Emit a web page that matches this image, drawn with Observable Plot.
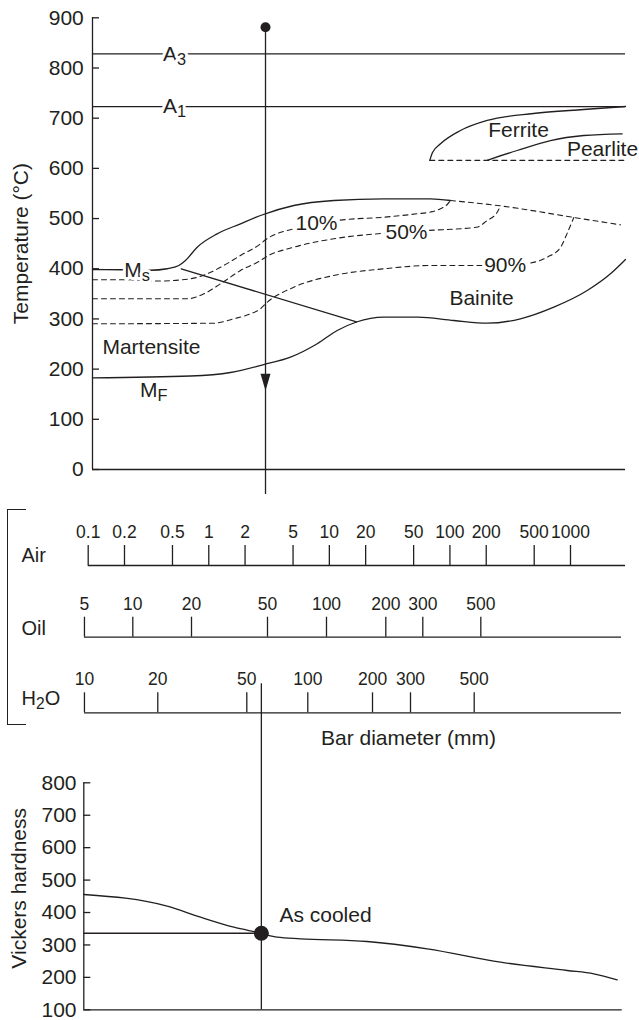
<!DOCTYPE html>
<html><head><meta charset="utf-8">
<script src="https://cdn.jsdelivr.net/npm/d3@7"></script>
<script src="https://cdn.jsdelivr.net/npm/@observablehq/plot@0.6"></script>
<style>
html,body{margin:0;padding:0;background:#fff;}
#fig{position:relative;width:639px;height:1020px;overflow:hidden;background:#fff;}
#fig svg{position:absolute;left:0;background:transparent;overflow:visible;}
#bracket{position:absolute;left:7px;top:509px;width:19px;height:216px;border:1.3px solid #231f20;border-right:none;box-sizing:border-box;}
</style></head>
<body><div id="fig"><div id="bracket"></div></div>
<script>
// ================= DATA =================
// Shared horizontal variable: air-cooled equivalent bar diameter (mm), log scale
const airDiam = [0.1, 0.2, 0.5, 1, 2, 5, 10, 20, 50, 100, 200, 500, 1000];
const oilDiam = [5, 10, 20, 50, 100, 200, 300, 500];
const oilAirEquiv = [0.0931, 0.2344, 0.719, 3.069, 9.47, 29.39, 59.57, 180.4];
const waterDiam = [10, 20, 50, 100, 200, 300, 500];
const waterAirEquiv = [0.0931, 0.3777, 2.067, 6.625, 22.8, 47.1, 159.0];

const tempTicks = [0, 100, 200, 300, 400, 500, 600, 700, 800, 900];
const hardTicks = [100, 200, 300, 400, 500, 600, 700, 800];

const A3 = 828, A1 = 723;

// CCT curves: [air-equivalent diameter, temperature °C]
const ferriteStart = [[68.1,616],[71.7,631.6],[83.5,648.9],[122.4,675.4],[203.8,695.4],[493,709.3],[1282,717.3],[2858,723.3]];
const pearliteStart = [[203.8,616],[361.4,635.6],[682.6,655.5],[1289,665.5],[2684,668.9]];
const ferritePearliteEnd = [[68.1,616],[2858,616]];
const msBainiteStart = [[0.1085,398.5],[0.1914,398],[0.3287,397],[0.4519,400],[0.5642,406.5],[0.6412,416.4],[0.8017,442.9],[1.1745,469.6],[1.833,489.5],[2.685,506.1],[5.073,526],[10.89,536],[28.29,539.4],[69.0,539.4],[101.1,536]];
const bainiteStartExt = [[101.1,536],[262.7,525.3],[1065,502.2],[2598,487.5]];
const pct10 = [[0.1085,378],[0.2243,378],[0.3735,375.5],[0.7055,380],[0.9703,389.9],[1.332,406.5],[1.833,426.4],[2.685,449.7],[2.955,457.7],[5.073,479.6],[7.826,488.5],[11.62,496.1],[28.29,502.7],[53.54,509.5],[69.0,513],[83.52,519.5],[94.94,528],[101.1,536]];
const pct50 = [[0.1085,340.1],[0.6624,340.1],[0.9094,350.1],[1.251,370],[1.833,396.5],[2.685,416.4],[2.955,423],[5.073,442.9],[10.89,459.7],[28.7,470.8],[43.64,473.5],[64.8,476.2],[166.4,482.8],[203.8,496.1],[246.7,512.7],[262.7,525.3]];
const pct90 = [[0.1085,290.3],[1.1008,291.5],[1.6128,300.3],[2.2183,310.2],[2.685,320.2],[2.955,330.2],[5.073,363.2],[10.89,386.6],[28.29,399.9],[69.0,406.5],[179.3,406.5],[287.3,407.5],[437.5,410.5],[641,423],[827.4,442.9],[944.5,472.2],[1065,502.2]];
const msDiagonal = [[0.5905,399.9],[16.8,293.9]];
const mfBainiteFinish = [[0.1085,182.7],[0.7055,186.3],[1.514,193.3],[2.86,209.2],[4.762,223.8],[7.93,250.5],[11.62,277],[16.8,293.9],[28.29,303.5],[53.86,303.5],[107.7,296.9],[203.8,291.5],[384.8,300.3],[727,323.4],[1376,356.6],[2146,389.9],[2858,418.4]];

const coolX = 2.955, coolStartT = 881, arrowT = 174;

const cctLineLabels = [
  {label: "A_3", x: 0.5195, t: 828},
  {label: "A_1", x: 0.5195, t: 723},
  {label: "M_s", x: 0.254, t: 397},
  {label: "10%", x: 7.826, t: 490},
  {label: "50%", x: 43.64, t: 473},
  {label: "90%", x: 287.3, t: 407.5}
];
const cctRegionLabels = [
  {label: "Ferrite", x: 370.4, t: 676.4},
  {label: "Pearlite", x: 1843, t: 638.6},
  {label: "Bainite", x: 182.8, t: 340.7},
  {label: "Martensite", x: 0.3343, t: 244.1},
  {label: "M_F", x: 0.3499, t: 157.4}
];

// Hardness: [air-equivalent diameter, HV]
const hardnessCurve = [[0.0919,455.5],[0.4519,419.5],[0.8538,385.5],[1.6128,354.7],[2.722,336.2],[3.694,323.9],[5.765,319],[20.6,310.6],[64.8,288.1],[262.7,246.8],[939,221.2],[1561,211],[2440,192.5]];
const asCooledX = 2.73, asCooledHV = 336;
const asCooledLabel = [{label: "As cooled", x: 9.29, hv: 390.8}];

// ================= DRAWING =================
const INK = "#231f20";
const FONT = "'Liberation Sans', Arial, Helvetica, sans-serif";
const X = {type: "log", domain: [0.1, 1000], range: [87.7, 570]};
const xs = d3.scaleLog().domain(X.domain).range(X.range);
const baseStyle = {fontFamily: FONT, fontSize: "21px", color: INK, background: "transparent", overflow: "visible"};
const solid = {stroke: INK, strokeWidth: 1.3, curve: "monotone-x"};
const dashed = {stroke: INK, strokeWidth: 1.1, strokeDasharray: "5,4", curve: "monotone-x"};
const downTriangle = {draw(ctx) { ctx.moveTo(-5, -8.5); ctx.lineTo(5, -8.5); ctx.lineTo(0, 8.5); ctx.closePath(); }};
const fig = document.getElementById("fig");

function subscripts(svg) {
  svg.querySelectorAll("text").forEach(t => {
    if (t.childElementCount) return;
    const s = t.textContent;
    if (!s.includes("_")) return;
    const parts = s.split(/_(.)/);
    t.textContent = "";
    let shifted = false;
    parts.forEach((p, i) => {
      if (!p) return;
      const ts = document.createElementNS("http://www.w3.org/2000/svg", "tspan");
      ts.textContent = p;
      if (i % 2) { ts.setAttribute("font-size", "78%"); ts.setAttribute("dy", "0.25em"); shifted = true; }
      else if (shifted) { ts.setAttribute("dy", "-0.195em"); shifted = false; }
      t.appendChild(ts);
    });
  });
}
function place(svg, top) {
  svg.style.top = top + "px";
  subscripts(svg);
  fig.appendChild(svg);
}

// ---- CCT diagram ----
const ML1 = 92, MR1 = 14;
place(Plot.plot({
  width: 639, height: 500, marginTop: 17.3, marginBottom: 31, marginLeft: ML1, marginRight: MR1,
  x: {...X, axis: null},
  y: {domain: [0, 900]},
  style: baseStyle,
  marks: [
    Plot.ruleX([xs.invert(ML1)], {y1: 0, y2: 900, stroke: INK, strokeWidth: 1.3}),
    Plot.ruleY([0], {stroke: INK, strokeWidth: 1.3}),
    Plot.axisY({ticks: tempTicks, tickSize: -7, tickPadding: 15.7, label: null, stroke: INK, strokeWidth: 1.3}),
    Plot.ruleY([A3, A1], {stroke: INK, strokeWidth: 1.3}),
    Plot.line(ferriteStart, solid),
    Plot.line(pearliteStart, solid),
    Plot.line(ferritePearliteEnd, dashed),
    Plot.line(bainiteStartExt, dashed),
    Plot.line(pct10, dashed),
    Plot.line(pct50, dashed),
    Plot.line(pct90, dashed),
    Plot.line(msBainiteStart, solid),
    Plot.line(msDiagonal, {stroke: INK, strokeWidth: 1.3}),
    Plot.line(mfBainiteFinish, solid),
    Plot.ruleX([coolX], {y1: coolStartT, y2: 0, insetBottom: -25, stroke: INK, strokeWidth: 1.3}),
    Plot.dot([[coolX, coolStartT]], {r: 5, fill: INK, stroke: "none"}),
    Plot.dot([[coolX, arrowT]], {symbol: downTriangle, fill: INK, stroke: "none"}),
    Plot.text(cctLineLabels, {x: "x", y: "t", text: "label", fill: INK, stroke: "white", strokeWidth: 6, paintOrder: "stroke", fontSize: 21}),
    Plot.text(cctRegionLabels, {x: "x", y: "t", text: "label", fill: INK, fontSize: 21}),
    Plot.text(["Temperature (°C)"], {frameAnchor: "left", textAnchor: "middle", lineAnchor: "middle", rotate: -90, dx: -71, fill: INK, fontSize: 21})
  ]
}), 0);

// ---- nomogram scales ----
function scaleRow({name, values, pos, top, height, base, ml, mr, labelDy, extra = []}) {
  const ticks = values.map((v, i) => ({v, p: pos[i]}));
  place(Plot.plot({
    width: 639, height, marginTop: base, marginBottom: height - base, marginLeft: ml, marginRight: mr,
    x: {...X, axis: null},
    y: {domain: [0, 1], axis: null},
    style: baseStyle,
    marks: [
      Plot.ruleY([0], {stroke: INK, strokeWidth: 1.3}),
      Plot.ruleX(ticks, {x: "p", insetTop: -20, stroke: INK, strokeWidth: 1.3}),
      Plot.text(ticks, {x: "p", text: d => String(d.v), frameAnchor: "top", lineAnchor: "middle", dy: -33, fill: INK, fontSize: 17.5}),
      Plot.text([name], {frameAnchor: "top-left", lineAnchor: "middle", dx: 21 - ml, dy: labelDy, textAnchor: "start", fill: INK, fontSize: 20}),
      ...extra
    ]
  }), top);
}
scaleRow({name: "Air", values: airDiam, pos: airDiam, top: 505, height: 70, base: 60, ml: 87.7, mr: 14, labelDy: -10});
scaleRow({name: "Oil", values: oilDiam, pos: oilAirEquiv, top: 580, height: 65, base: 56.7, ml: 84, mr: 18, labelDy: -9});
scaleRow({name: "H_2O", values: waterDiam, pos: waterAirEquiv, top: 650, height: 100, base: 62.3, ml: 84, mr: 18, labelDy: -14,
  extra: [Plot.text(["Bar diameter (mm)"], {frameAnchor: "top", lineAnchor: "middle", dx: 55.5, dy: 25.2, fill: INK, fontSize: 21})]});

// ---- hardness ----
const ML3 = 83.3;
place(Plot.plot({
  width: 639, height: 338, marginTop: 100.3, marginBottom: 10.7, marginLeft: ML3, marginRight: 17.3,
  x: {...X, axis: null},
  y: {domain: [100, 800]},
  style: baseStyle,
  marks: [
    Plot.ruleX([xs.invert(ML3)], {y1: 100, y2: 800, stroke: INK, strokeWidth: 1.3}),
    Plot.ruleY([100], {stroke: INK, strokeWidth: 1.3}),
    Plot.axisY({ticks: hardTicks, tickSize: -7, tickPadding: 14.3, label: null, stroke: INK, strokeWidth: 1.3}),
    Plot.ruleY([asCooledHV], {x1: xs.invert(ML3), x2: asCooledX, stroke: INK, strokeWidth: 1.3}),
    Plot.ruleX([asCooledX], {insetTop: -99, stroke: INK, strokeWidth: 1.3}),
    Plot.line(hardnessCurve, solid),
    Plot.dot([[asCooledX, asCooledHV]], {r: 7.5, fill: INK, stroke: "none"}),
    Plot.text(asCooledLabel, {x: "x", y: "hv", text: "label", fill: INK, fontSize: 21}),
    Plot.text(["Vickers hardness"], {frameAnchor: "left", textAnchor: "middle", lineAnchor: "middle", rotate: -90, dx: -65, dy: -8, fill: INK, fontSize: 21})
  ]
}), 682);
</script>
</body></html>
